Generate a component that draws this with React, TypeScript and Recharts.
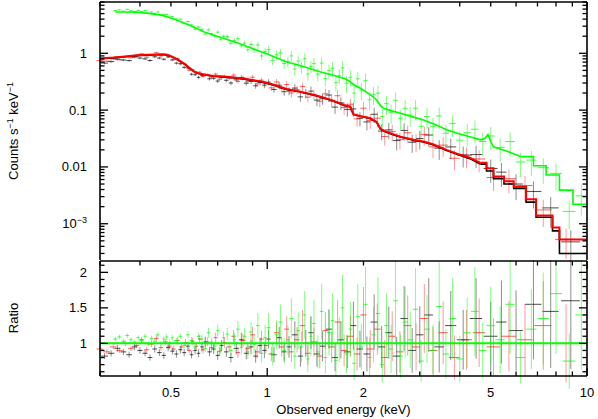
import React from "react";
import { ComposedChart, Scatter, Line, XAxis, YAxis, ErrorBar } from "recharts";

const FONT = "'Liberation Sans', Arial, Helvetica, sans-serif";

// tick positions and labels
const energyTicks = [0.3, 0.4, 0.5, 0.6, 0.7, 0.8, 0.9, 1, 2, 3, 4, 5, 6, 7, 8, 9, 10];
const energyLabels = [0.5, 1, 2, 5, 10];
const countTicks = [
  0.0003, 0.0004, 0.0005, 0.0006, 0.0007, 0.0008, 0.0009,
  0.001, 0.002, 0.003, 0.004, 0.005, 0.006, 0.007, 0.008, 0.009,
  0.01, 0.02, 0.03, 0.04, 0.05, 0.06, 0.07, 0.08, 0.09,
  0.1, 0.2, 0.3, 0.4, 0.5, 0.6, 0.7, 0.8, 0.9,
  1, 2, 3, 4, 5, 6, 7, 8,
];
const countLabels = [0.001, 0.01, 0.1, 1];
const ratioTicks = [0.6, 0.7, 0.8, 0.9, 1, 1.1, 1.2, 1.3, 1.4, 1.5, 1.6, 1.7, 1.8, 1.9, 2, 2.1];
const ratioLabels = [1, 1.5, 2];

// black spectrum
const blackE = [
  0.31, 0.325, 0.34, 0.355, 0.37, 0.385, 0.4, 0.415, 0.43, 0.445, 0.46, 0.475, 0.49, 0.505, 0.52, 0.535, 0.55, 0.565, 0.58, 0.595,
  0.61, 0.625, 0.64, 0.66, 0.68, 0.7, 0.72, 0.745, 0.77, 0.8, 0.83, 0.86, 0.89, 0.92, 0.95, 0.98, 1.01, 1.05, 1.09, 1.13,
  1.17, 1.22, 1.27, 1.32, 1.37, 1.43, 1.49, 1.56, 1.63, 1.7, 1.78, 1.86, 1.95, 2.05, 2.16, 2.28, 2.4, 2.54, 2.68, 2.84,
  3.0, 3.2, 3.45, 3.75, 4.1, 4.5, 5.0, 5.4, 6.0, 6.8, 7.7, 8.9,
];
const blackCounts = [
  0.672, 0.714, 0.79, 0.761, 0.743, 0.86, 0.825, 0.797, 0.748, 0.868, 0.825, 0.786, 0.865, 0.765, 0.672, 0.655, 0.566, 0.552, 0.428, 0.419,
  0.378, 0.406, 0.423, 0.356, 0.363, 0.325, 0.375, 0.335, 0.3, 0.341, 0.375, 0.298, 0.32, 0.268, 0.307, 0.275, 0.31, 0.231, 0.275, 0.211,
  0.217, 0.244, 0.171, 0.198, 0.216, 0.15, 0.159, 0.184, 0.113, 0.134, 0.103, 0.105, 0.0718, 0.062, 0.0845, 0.0428, 0.0449, 0.0291, 0.0439, 0.0272,
  0.0316, 0.0364, 0.0214, 0.0225, 0.0163, 0.0165, 0.0094, 0.0081, 0.005, 0.0037, 0.0019, 0.00048,
];
const blackRatio = [
  0.82, 0.86, 0.93, 0.88, 0.84, 0.95, 0.9, 0.86, 0.8, 0.92, 0.87, 0.83, 0.94, 0.89, 0.85, 0.91, 0.87, 0.96, 0.84, 0.9,
  0.86, 0.95, 1.02, 0.88, 0.92, 0.83, 0.97, 0.88, 0.8, 0.93, 1.05, 0.86, 0.95, 0.82, 0.97, 0.9, 1.06, 0.84, 1.08, 0.88,
  0.95, 1.12, 0.82, 1.0, 1.15, 0.85, 0.96, 1.2, 0.8, 1.05, 0.88, 1.25, 0.92, 0.85, 1.3, 0.95, 1.15, 0.82, 1.35, 0.9,
  1.12, 1.4, 0.95, 1.25, 1.05, 1.35, 1.1, 1.3, 1.18, 1.55, 1.45, 1.6,
];
const blackErr = [
  0.05, 0.05, 0.05, 0.05, 0.05, 0.05, 0.05, 0.05, 0.055, 0.055, 0.055, 0.055, 0.055, 0.055, 0.06, 0.06, 0.06, 0.06, 0.06, 0.06,
  0.065, 0.065, 0.07, 0.07, 0.075, 0.075, 0.08, 0.08, 0.085, 0.09, 0.095, 0.1, 0.105, 0.11, 0.115, 0.12, 0.125, 0.13, 0.14, 0.15,
  0.16, 0.17, 0.18, 0.19, 0.2, 0.21, 0.22, 0.23, 0.24, 0.25, 0.26, 0.27, 0.28, 0.29, 0.3, 0.31, 0.32, 0.33, 0.34, 0.35,
  0.36, 0.37, 0.38, 0.39, 0.4, 0.42, 0.44, 0.45, 0.48, 0.5, 0.55, 0.6,
];
const blackHalfW = [
  0.0075, 0.0075, 0.0075, 0.0075, 0.0075, 0.0075, 0.0075, 0.0075, 0.0075, 0.0075, 0.0075, 0.0075, 0.0075, 0.0075, 0.0075, 0.0075, 0.0075, 0.0075, 0.0075, 0.0075,
  0.0075, 0.0075, 0.0075, 0.01, 0.01, 0.01, 0.01, 0.012, 0.012, 0.015, 0.015, 0.015, 0.015, 0.015, 0.015, 0.015, 0.015, 0.02, 0.02, 0.02,
  0.02, 0.025, 0.025, 0.025, 0.025, 0.03, 0.03, 0.035, 0.035, 0.035, 0.04, 0.04, 0.045, 0.05, 0.055, 0.06, 0.06, 0.07, 0.07, 0.08,
  0.08, 0.1, 0.12, 0.15, 0.18, 0.2, 0.25, 0.2, 0.3, 0.4, 0.45, 0.6,
];
// model: smooth part, then the wide high-energy bins
const blackModel: [number, number][] = [
  [0.3, 0.8], [0.33, 0.83], [0.36, 0.87], [0.39, 0.91], [0.42, 0.93], [0.45, 0.945], [0.47, 0.95], [0.49, 0.92],
  [0.51, 0.84], [0.53, 0.74], [0.55, 0.65], [0.57, 0.55], [0.59, 0.475], [0.61, 0.44], [0.64, 0.415], [0.68, 0.395],
  [0.73, 0.385], [0.79, 0.37], [0.85, 0.35], [0.91, 0.33], [0.98, 0.305], [1.05, 0.275], [1.1, 0.25], [1.15, 0.232],
  [1.25, 0.212], [1.35, 0.192], [1.47, 0.17], [1.6, 0.146], [1.74, 0.121], [1.82, 0.113], [1.86, 0.084], [1.95, 0.078],
  [2.1, 0.071], [2.2, 0.061], [2.26, 0.046], [2.35, 0.041], [2.5, 0.036], [2.61, 0.0335], [2.87, 0.0295], [3.08, 0.0275],
  [3.3, 0.0245], [3.64, 0.0195], [4.0, 0.016], [4.3, 0.014], [4.64, 0.0112],
];
const blackBins: [number, number][] = [
  [4.64, 0.0112], [4.85, 0.0085], [5.1, 0.0062], [5.5, 0.005], [5.9, 0.0042], [6.45, 0.0024], [6.93, 0.0013],
  [7.8, 0.00075], [8.2, 0.0003], [10, 0.0003],
];

// red spectrum
const redE = [
  0.3, 0.315, 0.33, 0.345, 0.36, 0.375, 0.39, 0.405, 0.42, 0.435, 0.45, 0.465, 0.48, 0.495, 0.51, 0.525, 0.54, 0.555, 0.57, 0.585,
  0.6, 0.615, 0.63, 0.65, 0.67, 0.69, 0.71, 0.735, 0.76, 0.785, 0.81, 0.84, 0.87, 0.9, 0.93, 0.96, 0.99, 1.03, 1.07, 1.11,
  1.15, 1.19, 1.24, 1.29, 1.34, 1.4, 1.46, 1.52, 1.59, 1.66, 1.74, 1.82, 1.91, 2.0, 2.1, 2.21, 2.33, 2.46, 2.6, 2.75,
  2.92, 3.1, 3.3, 3.55, 3.85, 4.2, 4.6, 5.1, 5.7, 6.4, 7.3, 8.6,
];
const redCounts = [
  0.745, 0.726, 0.798, 0.774, 0.88, 0.837, 0.892, 0.977, 0.855, 0.939, 1.02, 0.902, 0.964, 0.874, 0.782, 0.811, 0.665, 0.641, 0.504, 0.515,
  0.442, 0.466, 0.391, 0.423, 0.381, 0.43, 0.351, 0.393, 0.363, 0.414, 0.32, 0.372, 0.324, 0.379, 0.289, 0.336, 0.297, 0.246, 0.313, 0.238,
  0.282, 0.2, 0.228, 0.259, 0.169, 0.19, 0.143, 0.194, 0.143, 0.179, 0.111, 0.127, 0.07, 0.108, 0.066, 0.072, 0.0344, 0.0418, 0.0302, 0.04,
  0.0281, 0.0374, 0.0225, 0.0242, 0.0142, 0.0158, 0.0138, 0.0065, 0.0062, 0.0047, 0.00175, 0.00053,
];
const redRatio = [
  0.92, 0.88, 0.95, 0.9, 1.0, 0.93, 0.97, 1.05, 0.91, 0.99, 1.07, 0.94, 1.02, 0.96, 0.92, 1.04, 0.95, 1.01, 0.9, 1.03,
  0.96, 1.06, 0.91, 1.02, 0.94, 1.08, 0.89, 1.01, 0.95, 1.1, 0.87, 1.04, 0.93, 1.12, 0.88, 1.06, 0.97, 0.85, 1.15, 0.95,
  1.2, 0.88, 1.05, 1.25, 0.86, 1.02, 0.82, 1.18, 0.95, 1.3, 0.9, 1.1, 0.85, 1.4, 0.92, 1.2, 0.8, 1.1, 0.88, 1.25,
  0.95, 1.35, 0.9, 1.15, 0.8, 1.05, 1.15, 0.95, 1.1, 1.05, 1.25, 1.0,
];
const redErr = [
  0.04, 0.04, 0.04, 0.04, 0.04, 0.04, 0.04, 0.04, 0.045, 0.045, 0.045, 0.045, 0.045, 0.045, 0.05, 0.05, 0.05, 0.05, 0.05, 0.05,
  0.055, 0.055, 0.06, 0.06, 0.065, 0.065, 0.07, 0.07, 0.075, 0.08, 0.085, 0.09, 0.095, 0.1, 0.105, 0.11, 0.115, 0.12, 0.13, 0.14,
  0.15, 0.16, 0.17, 0.18, 0.19, 0.2, 0.21, 0.22, 0.23, 0.24, 0.25, 0.26, 0.27, 0.28, 0.29, 0.3, 0.31, 0.32, 0.33, 0.34,
  0.35, 0.36, 0.37, 0.38, 0.39, 0.4, 0.42, 0.42, 0.45, 0.48, 0.5, 0.55,
];
const redHalfW = [
  0.0075, 0.0075, 0.0075, 0.0075, 0.0075, 0.0075, 0.0075, 0.0075, 0.0075, 0.0075, 0.0075, 0.0075, 0.0075, 0.0075, 0.0075, 0.0075, 0.0075, 0.0075, 0.0075, 0.0075,
  0.0075, 0.0075, 0.0075, 0.01, 0.01, 0.01, 0.01, 0.012, 0.012, 0.012, 0.012, 0.015, 0.015, 0.015, 0.015, 0.015, 0.015, 0.02, 0.02, 0.02,
  0.02, 0.02, 0.025, 0.025, 0.025, 0.03, 0.03, 0.03, 0.035, 0.035, 0.04, 0.04, 0.045, 0.045, 0.05, 0.055, 0.06, 0.065, 0.07, 0.075,
  0.085, 0.09, 0.1, 0.12, 0.15, 0.17, 0.2, 0.25, 0.3, 0.35, 0.45, 0.65,
];
const redModel: [number, number][] = [
  [0.3, 0.81], [0.33, 0.84], [0.36, 0.88], [0.39, 0.92], [0.42, 0.94], [0.45, 0.955], [0.47, 0.96], [0.49, 0.93],
  [0.51, 0.85], [0.53, 0.75], [0.55, 0.66], [0.57, 0.56], [0.59, 0.48], [0.61, 0.445], [0.64, 0.42], [0.68, 0.4],
  [0.73, 0.39], [0.79, 0.375], [0.85, 0.355], [0.91, 0.335], [0.98, 0.31], [1.05, 0.28], [1.1, 0.255], [1.15, 0.235],
  [1.25, 0.215], [1.35, 0.195], [1.47, 0.172], [1.6, 0.148], [1.74, 0.123], [1.82, 0.115], [1.86, 0.085], [1.95, 0.079],
  [2.1, 0.072], [2.2, 0.062], [2.26, 0.047], [2.35, 0.042], [2.5, 0.037], [2.61, 0.034], [2.87, 0.03], [3.08, 0.028],
  [3.3, 0.025], [3.64, 0.02], [4.0, 0.0165], [4.3, 0.0145], [4.64, 0.0118],
];
const redBins: [number, number][] = [
  [4.64, 0.0118], [4.85, 0.0095], [5.1, 0.0068], [5.5, 0.0056], [5.9, 0.0045], [6.45, 0.0027], [6.93, 0.0014],
  [7.8, 0.00086], [8.2, 0.00053], [10, 0.00053],
];

// green spectrum
const greenE = [
  0.335, 0.345, 0.355, 0.365, 0.375, 0.385, 0.395, 0.405, 0.415, 0.425, 0.435, 0.445, 0.455, 0.465, 0.475, 0.485, 0.495, 0.505, 0.52, 0.535,
  0.55, 0.565, 0.58, 0.595, 0.61, 0.625, 0.64, 0.655, 0.67, 0.685, 0.7, 0.715, 0.73, 0.75, 0.77, 0.79, 0.81, 0.83, 0.85, 0.87,
  0.89, 0.91, 0.935, 0.96, 0.985, 1.01, 1.04, 1.07, 1.1, 1.13, 1.16, 1.19, 1.22, 1.25, 1.28, 1.31, 1.34, 1.37, 1.4, 1.44,
  1.48, 1.52, 1.56, 1.6, 1.64, 1.68, 1.72, 1.77, 1.82, 1.87, 1.92, 1.97, 2.03, 2.09, 2.15, 2.22, 2.29, 2.36, 2.44, 2.52,
  2.61, 2.7, 2.8, 2.91, 3.03, 3.16, 3.3, 3.45, 3.62, 3.8, 4.0, 4.22, 4.46, 4.72, 5.0, 5.35, 5.75, 6.2, 6.7, 7.3,
  8.0, 8.8, 9.6,
];
const greenCounts = [
  5.67, 5.83, 5.51, 5.94, 5.61, 5.43, 5.7, 5.43, 5.67, 5.02, 5.33, 5.04, 5.35, 4.69, 4.82, 4.84, 4.32, 4.44, 4.0, 3.98,
  3.32, 3.61, 3.14, 2.68, 2.9, 2.64, 2.19, 2.59, 2.19, 1.99, 2.35, 1.77, 1.99, 1.98, 1.5, 1.67, 1.81, 1.35, 1.51, 1.15,
  1.44, 1.16, 1.4, 0.9, 1.08, 1.16, 0.75, 0.94, 1.01, 0.66, 0.72, 0.9, 0.53, 0.73, 0.57, 0.805, 0.433, 0.589, 0.659, 0.431,
  0.674, 0.36, 0.495, 0.548, 0.304, 0.404, 0.555, 0.298, 0.378, 0.199, 0.355, 0.225, 0.33, 0.152, 0.19, 0.199, 0.077, 0.13, 0.09, 0.149,
  0.072, 0.108, 0.082, 0.108, 0.052, 0.077, 0.052, 0.079, 0.039, 0.058, 0.0296, 0.04, 0.046, 0.028, 0.035, 0.022, 0.028, 0.0122, 0.0132, 0.0097,
  0.0077, 0.00165, 0.0031,
];
const greenRatio = [
  1.06, 1.09, 1.03, 1.11, 1.05, 1.02, 1.08, 1.04, 1.1, 0.99, 1.07, 1.03, 1.12, 1.0, 1.06, 1.09, 1.01, 1.08, 1.04, 1.1,
  0.97, 1.12, 1.04, 0.95, 1.1, 1.06, 0.93, 1.15, 1.02, 0.96, 1.18, 0.92, 1.08, 1.13, 0.9, 1.05, 1.2, 0.94, 1.1, 0.88,
  1.16, 0.98, 1.25, 0.86, 1.08, 1.22, 0.84, 1.12, 1.3, 0.9, 1.05, 1.35, 0.82, 1.18, 0.95, 1.4, 0.78, 1.1, 1.28, 0.88,
  1.45, 0.8, 1.15, 1.32, 0.76, 1.05, 1.5, 0.85, 1.2, 0.72, 1.38, 0.95, 1.55, 0.8, 1.12, 1.42, 0.7, 1.25, 0.92, 1.6,
  0.82, 1.3, 1.05, 1.48, 0.75, 1.2, 0.9, 1.52, 0.85, 1.35, 0.78, 1.15, 1.45, 0.9, 1.25, 1.05, 1.55, 0.8, 1.2, 1.35,
  1.7, 0.75, 1.4,
];
const greenErr = [
  0.03, 0.03, 0.03, 0.03, 0.03, 0.03, 0.03, 0.03, 0.03, 0.03, 0.035, 0.035, 0.035, 0.035, 0.035, 0.035, 0.035, 0.035, 0.035, 0.035,
  0.04, 0.04, 0.045, 0.045, 0.05, 0.05, 0.055, 0.06, 0.06, 0.065, 0.07, 0.07, 0.075, 0.08, 0.085, 0.09, 0.095, 0.1, 0.105, 0.11,
  0.12, 0.13, 0.14, 0.15, 0.16, 0.17, 0.18, 0.18, 0.19, 0.2, 0.2, 0.21, 0.22, 0.22, 0.23, 0.24, 0.24, 0.25, 0.26, 0.26,
  0.27, 0.28, 0.28, 0.29, 0.3, 0.3, 0.31, 0.32, 0.32, 0.33, 0.33, 0.34, 0.34, 0.35, 0.35, 0.36, 0.36, 0.36, 0.37, 0.37,
  0.37, 0.38, 0.38, 0.39, 0.39, 0.4, 0.4, 0.41, 0.41, 0.42, 0.42, 0.43, 0.43, 0.44, 0.44, 0.45, 0.45, 0.46, 0.47, 0.48,
  0.5, 0.52, 0.55,
];
const greenHalfW = [
  0.005, 0.005, 0.005, 0.005, 0.005, 0.005, 0.005, 0.005, 0.005, 0.005, 0.005, 0.005, 0.005, 0.005, 0.005, 0.005, 0.005, 0.005, 0.0075, 0.0075,
  0.0075, 0.0075, 0.0075, 0.0075, 0.0075, 0.0075, 0.0075, 0.0075, 0.0075, 0.0075, 0.0075, 0.0075, 0.0075, 0.01, 0.01, 0.01, 0.01, 0.01, 0.01, 0.01,
  0.012, 0.012, 0.012, 0.012, 0.012, 0.015, 0.015, 0.015, 0.015, 0.015, 0.015, 0.015, 0.015, 0.015, 0.015, 0.015, 0.015, 0.015, 0.018, 0.02,
  0.02, 0.02, 0.02, 0.02, 0.02, 0.02, 0.022, 0.025, 0.025, 0.025, 0.025, 0.028, 0.03, 0.03, 0.032, 0.035, 0.035, 0.038, 0.04, 0.042,
  0.045, 0.048, 0.05, 0.055, 0.06, 0.065, 0.07, 0.075, 0.08, 0.09, 0.1, 0.11, 0.12, 0.13, 0.15, 0.18, 0.2, 0.22, 0.25, 0.3,
  0.35, 0.4, 0.4,
];
const greenModel: [number, number][] = [
  [0.335, 5.35], [0.36, 5.35], [0.39, 5.3], [0.42, 5.1], [0.45, 4.85], [0.47, 4.65], [0.5, 4.2], [0.52, 3.85],
  [0.54, 3.55], [0.57, 3.15], [0.6, 2.75], [0.636, 2.38], [0.68, 2.1], [0.72, 1.88], [0.75, 1.75], [0.8, 1.55],
  [0.85, 1.37], [0.9, 1.21], [0.957, 1.06], [1.0, 0.97], [1.05, 0.87], [1.1, 0.78], [1.15, 0.7], [1.25, 0.62],
  [1.35, 0.545], [1.47, 0.47], [1.6, 0.415], [1.74, 0.36], [1.8, 0.33], [1.87, 0.277], [1.95, 0.245], [2.05, 0.205],
  [2.15, 0.17], [2.2, 0.151], [2.26, 0.12], [2.31, 0.108], [2.45, 0.097], [2.61, 0.088], [2.85, 0.076], [3.08, 0.067],
  [3.35, 0.056], [3.64, 0.045], [4.0, 0.038], [4.3, 0.034], [4.64, 0.03], [4.8, 0.032], [4.9, 0.037], [5.0, 0.028],
  [5.1, 0.0226], [5.6, 0.019], [6.2, 0.0152],
];
const greenBins: [number, number][] = [
  [6.2, 0.0152], [6.8, 0.0105], [7.45, 0.0072], [8.2, 0.0039], [9.04, 0.0022], [10, 0.0022],
];
const unityLine: [number, number][] = [[0.3, 1], [10, 1]];

const points = (en: number[], val: number[], rel: number[], hw: number[]) =>
  en.map((e, i) => ({ e, v: val[i], ey: val[i] * rel[i], ex: hw[i] }));
const curve = (m: [number, number][]) => m.map(([e, v]) => ({ e, v }));

const near = (a: number, b: number) => Math.abs(a - b) <= 1e-6 * Math.max(Math.abs(a), Math.abs(b));
const isDecade = (v: number) => {
  const l = Math.log10(v);
  return Math.abs(l - Math.round(l)) < 1e-6;
};

const frame = { stroke: "#000", strokeWidth: 1.6 };
const txt = { fontSize: 13, fontFamily: FONT, fill: "#000" };

const XTick = (props: any) => {
  const { x, y, payload, side, labels } = props;
  const v = payload.value;
  const len = isDecade(v) ? 8 : 4.5;
  const dir = side === "bottom" ? -1 : 1;
  const show = labels && energyLabels.some((l) => near(l, v));
  return (
    <g>
      <path d={`M${x},${y}v${dir * len}`} stroke="#000" strokeWidth={1.3} fill="none" />
      {show && (
        <text x={x} y={y + 21} textAnchor="middle" {...txt}>
          {v}
        </text>
      )}
    </g>
  );
};

const CountTick = (props: any) => {
  const { x, y, payload, side } = props;
  const v = payload.value;
  const major = isDecade(v);
  const dir = side === "left" ? 1 : -1;
  const show = side === "left" && countLabels.some((l) => near(l, v));
  return (
    <g>
      <path d={`M${x},${y}h${dir * (major ? 8 : 4.5)}`} stroke="#000" strokeWidth={1.3} fill="none" />
      {show && (
        <text x={x - 13} y={y + 4.5} textAnchor="end" {...txt}>
          {v >= 0.01 ? String(v) : (
            <>
              <tspan>10</tspan>
              <tspan dy={-5} fontSize={9}>
                −3
              </tspan>
            </>
          )}
        </text>
      )}
    </g>
  );
};

const RatioTick = (props: any) => {
  const { x, y, payload, side } = props;
  const v = payload.value;
  const major = ratioLabels.some((l) => near(l, v));
  const dir = side === "left" ? 1 : -1;
  return (
    <g>
      <path d={`M${x},${y}h${dir * (major ? 8 : 4.5)}`} stroke="#000" strokeWidth={1.3} fill="none" />
      {side === "left" && major && (
        <text x={x - 13} y={y + 4.5} textAnchor="end" {...txt}>
          {v}
        </text>
      )}
    </g>
  );
};

const NoDot = () => <g />;

const series = [
  { color: "#000000", op: 0.45 },
  { color: "#ff0000", op: 0.4 },
  { color: "#00ff00", op: 0.5 },
];

const dataTop = [
  points(blackE, blackCounts, blackErr, blackHalfW),
  points(redE, redCounts, redErr, redHalfW),
  points(greenE, greenCounts, greenErr, greenHalfW),
];
const dataRatio = [
  points(blackE, blackRatio, blackErr, blackHalfW),
  points(redE, redRatio, redErr, redHalfW),
  points(greenE, greenRatio, greenErr, greenHalfW),
];
const models = [curve(blackModel), curve(redModel), curve(greenModel)];
const bins = [curve(blackBins), curve(redBins), curve(greenBins)];

const xAxes = (labels: boolean, bottomHeight: number) => [
  <XAxis
    key="xb"
    dataKey="e"
    type="number"
    scale="log"
    domain={[0.3, 10]}
    allowDataOverflow
    ticks={energyTicks}
    interval={0}
    height={bottomHeight}
    tickSize={0}
    tickMargin={0}
    tickLine={false}
    axisLine={frame}
    tick={(p: any) => <XTick {...p} side="bottom" labels={labels} />}
  />,
  <XAxis
    key="xt"
    xAxisId="t"
    orientation="top"
    dataKey="e"
    type="number"
    scale="log"
    domain={[0.3, 10]}
    allowDataOverflow
    ticks={energyTicks}
    interval={0}
    height={1}
    tickSize={0}
    tickMargin={0}
    tickLine={false}
    axisLine={frame}
    tick={(p: any) => <XTick {...p} side="top" labels={false} />}
  />,
];

const yAxes = (domain: number[], ticks: number[], log: boolean, Tick: any) => [
  <YAxis
    key="yl"
    dataKey="v"
    type="number"
    scale={log ? "log" : "auto"}
    domain={domain}
    allowDataOverflow
    ticks={ticks}
    interval={0}
    width={100}
    tickSize={0}
    tickMargin={0}
    tickLine={false}
    axisLine={frame}
    tick={(p: any) => <Tick {...p} side="left" />}
  />,
  <YAxis
    key="yr"
    yAxisId="r"
    orientation="right"
    type="number"
    scale={log ? "log" : "auto"}
    domain={domain}
    allowDataOverflow
    ticks={ticks}
    interval={0}
    width={1}
    tickSize={0}
    tickMargin={0}
    tickLine={false}
    axisLine={frame}
    tick={(p: any) => <Tick {...p} side="right" />}
  />,
];

const dataSeries = (sets: any[][], cls: string) =>
  sets.map((d, i) => (
    <Scatter key={"s" + i} className={cls} data={d} dataKey="v" shape={NoDot} isAnimationActive={false}>
      <ErrorBar dataKey="ey" direction="y" width={0} stroke={series[i].color} strokeOpacity={series[i].op} strokeWidth={1} />
      <ErrorBar dataKey="ex" direction="x" width={0} stroke={series[i].color} strokeOpacity={series[i].op + 0.25} strokeWidth={1} />
    </Scatter>
  ));

const TopPanel = () => (
  <ComposedChart width={598} height={260} margin={{ top: 1, right: 10, bottom: 0, left: 0 }}>
    {xAxes(false, 0)}
    {yAxes([0.00023, 8], countTicks, true, CountTick)}
    {dataSeries(dataTop, "clip-top")}
    {models.map((m, i) => (
      <Line key={"m" + i} data={m} dataKey="v" type="linear" stroke={series[i].color}
        strokeWidth={i === 1 ? 2 : 1.6} dot={false} isAnimationActive={false} />
    ))}
    {bins.map((m, i) => (
      <Line key={"b" + i} data={m} dataKey="v" type="stepAfter" stroke={series[i].color}
        strokeWidth={i === 1 ? 2 : 1.6} dot={false} isAnimationActive={false} />
    ))}
  </ComposedChart>
);

const RatioPanel = () => (
  <ComposedChart width={598} height={159} margin={{ top: 0, right: 10, bottom: 0, left: 0 }}>
    {xAxes(true, 43)}
    {yAxes([0.54, 2.16], ratioTicks, false, RatioTick)}
    {dataSeries(dataRatio, "clip-ratio")}
    <Line data={curve(unityLine)} dataKey="v" type="linear" stroke="#00ff00" strokeWidth={2} dot={false} isAnimationActive={false} />
  </ComposedChart>
);

export default function App() {
  return (
    <div style={{ position: "absolute", left: 0, top: 0, width: 598, height: 419, background: "#fff" }}>
      <style>{`.clip-top{clip-path:url(#plotTop)}.clip-ratio{clip-path:url(#plotRatio)}`}</style>
      <div style={{ position: "absolute", left: 0, top: 0 }}>
        <TopPanel />
      </div>
      <div style={{ position: "absolute", left: 0, top: 260 }}>
        <RatioPanel />
      </div>
      <svg width={598} height={419} style={{ position: "absolute", left: 0, top: 0, pointerEvents: "none" }}>
        <defs>
          <clipPath id="plotTop">
            <rect x={100} y={2} width={487} height={258} />
          </clipPath>
          <clipPath id="plotRatio">
            <rect x={100} y={1} width={487} height={115} />
          </clipPath>
        </defs>
        <text x={18} y={131} transform="rotate(-90 18 131)" textAnchor="middle" {...txt}>
          Counts s<tspan dy={-5} fontSize={9}>−1</tspan>
          <tspan dy={5}> keV</tspan>
          <tspan dy={-5} fontSize={9}>−1</tspan>
        </text>
        <text x={18} y={318} transform="rotate(-90 18 318)" textAnchor="middle" {...txt}>
          Ratio
        </text>
        <text x={343.5} y={414} textAnchor="middle" {...txt}>
          Observed energy (keV)
        </text>
      </svg>
    </div>
  );
}
